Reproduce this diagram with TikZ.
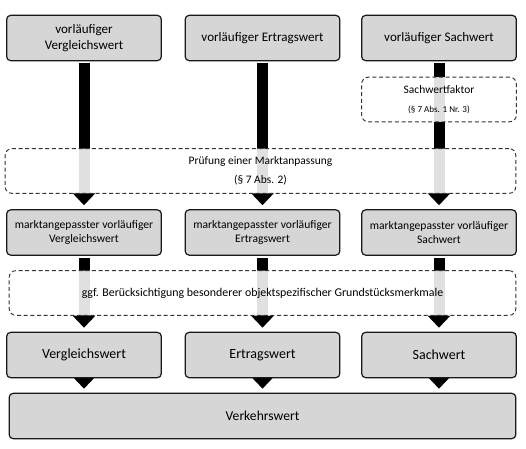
\documentclass[tikz,border=0pt]{standalone}
\usepackage{fontspec}
\setmainfont{Carlito}
\usetikzlibrary{arrows.meta,backgrounds}

\tikzset{
	wert/.style={draw=black!90, fill=black!16, rounded corners=3pt, line width=0.9pt, align=center, inner sep=0pt, minimum width=116pt, minimum height=34pt},
	pruef/.style={draw=black!80, fill=white, fill opacity=0.88, text opacity=1, dash pattern=on 3pt off 2pt, rounded corners=5pt, line width=0.7pt, align=center, inner sep=0pt, minimum height=33.5pt},
	shaft/.style={line width=8.25pt, draw=black, -{Triangle[width=16.5pt,length=9pt]}, shorten <=1.5pt, shorten >=3pt}
}

\begin{document}
\begin{tikzpicture}[x=0.75pt, y=-0.75pt]
		\useasboundingbox (0,0) rectangle (526,449);

		% vorlaeufige Werte
		\node[wert, font=\fontsize{9.8}{12}\selectfont] (vorlVgl) at (84, 38) {vorläufiger\\Vergleichswert};
		\node[wert, font=\fontsize{9.8}{12}\selectfont] (vorlErtr) at (262.5, 38) {vorläufiger Ertragswert};
		\node[wert, font=\fontsize{9.8}{12}\selectfont] (vorlSach) at (439, 38) {vorläufiger Sachwert};

		\node[pruef, minimum width=116pt] (faktor) at (439, 99.5) {\fontsize{8.6}{10}\selectfont Sachwertfaktor\\[2pt]\fontsize{6.8}{8}\selectfont (§ 7 Abs. 1 Nr. 3)};
		\node[pruef, minimum width=383pt, font=\fontsize{8.6}{10}\selectfont] (pruefung) at (260.5, 171) {Prüfung einer Marktanpassung\\[4pt](§ 7 Abs. 2)};

		% marktangepasste Werte
		\node[wert, font=\fontsize{8.7}{11}\selectfont] (mapVgl) at (84, 232.5) {marktangepasster vorläufiger\\Vergleichswert};
		\node[wert, font=\fontsize{8.7}{11}\selectfont] (mapErtr) at (262.5, 232.5) {marktangepasster vorläufiger\\Ertragswert};
		\node[wert, font=\fontsize{8.7}{11}\selectfont] (mapSach) at (439, 232.5) {marktangepasster vorläufiger\\Sachwert};

		\node[pruef, minimum width=380pt, font=\fontsize{8.9}{10}\selectfont] (bog) at (262.5, 293) {ggf. Berücksichtigung besonderer objektspezifischer Grundstücksmerkmale};

		% Werte
		\node[wert, font=\fontsize{10.5}{12}\selectfont] (vgl) at (84, 355) {Vergleichswert};
		\node[wert, font=\fontsize{10.5}{12}\selectfont] (ertr) at (262.5, 355) {Ertragswert};
		\node[wert, font=\fontsize{10.5}{12}\selectfont] (sach) at (439, 355) {Sachwert};

		\node[wert, minimum width=380pt, font=\fontsize{10.2}{12}\selectfont] (verkehr) at (262.5, 416) {Verkehrswert};

		\begin{scope}[on background layer]
			\fill[white] (0,0) rectangle (526,449);
			\draw [shaft] (vorlVgl) to (mapVgl);
			\draw [shaft] (vorlErtr) to (mapErtr);
			\draw [shaft] (vorlSach) to (mapSach);
			\draw [shaft] (mapVgl) to (vgl);
			\draw [shaft] (mapErtr) to (ertr);
			\draw [shaft] (mapSach) to (sach);
			\draw [shaft] (vgl) to (vgl |- verkehr.north);
			\draw [shaft] (ertr) to (ertr |- verkehr.north);
			\draw [shaft] (sach) to (sach |- verkehr.north);
		\end{scope}
\end{tikzpicture}
\end{document}
